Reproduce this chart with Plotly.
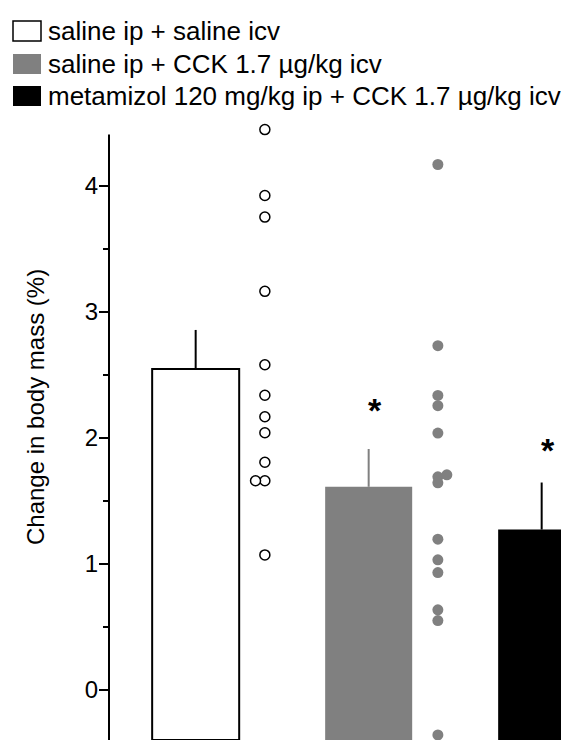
import plotly.graph_objects as go

# ---- data ----
groups = ["saline ip + saline icv",
          "saline ip + CCK 1.7 µg/kg icv",
          "metamizol 120 mg/kg ip + CCK 1.7 µg/kg icv"]
means = [2.545, 1.611, 1.272]
sems = [0.31, 0.30, 0.373]
significant = [False, True, True]

saline_saline_pts = [4.444, 3.921, 3.75, 3.161, 2.579, 2.337, 2.167, 2.040, 1.806, 1.659, 1.659, 1.071]
saline_saline_jit = [0, 0, 0, 0, 0, 0, 0, 0, 0, 0, -0.054, 0]
saline_cck_pts = [4.167, 2.730, 2.336, 2.254, 2.037, 1.706, 1.690, 1.643, 1.196, 1.032, 0.931, 0.635, 0.550, -0.357]
saline_cck_jit = [0, 0, 0, 0, 0, 0.052, 0, 0, 0, 0, 0, 0, 0, 0]

yticks = [0, 1, 2, 3, 4]
y_title = "Change in body mass (%)"

# ---- style ----
fill_colors = ["white", "#808080", "black"]
line_colors = ["black", "#808080", "black"]
err_colors = ["black", "#808080", "black"]
star_shift = [0, 39, 33]
FONT = "Liberation Sans, Arial, sans-serif"

OFF = 8  # page body margin
PAGE_W, PAGE_H = 569, 740
W, H = PAGE_W - OFF, PAGE_H - OFF
y_range = [-0.397, 4.52]
axis_top = 4.405
PX_PER_UNIT = 126
ML, MR, MB = 109 - OFF, 0, 0
MT = int(round(H - (y_range[1] - y_range[0]) * PX_PER_UNIT))
pw, ph = W - ML - MR, H - MT - MB
x_range = [-0.501, 2.158]
dot_offset = 0.40
bar_width = 0.503


def px(x):  # page x -> paper
    return (x - OFF - ML) / pw


def py(y):  # page y -> paper
    return (H - (y - OFF)) / ph


fig = go.Figure()

base = y_range[0]
for i in range(3):
    fig.add_trace(go.Bar(
        x=[i], y=[means[i] - base], base=[base], width=bar_width,
        marker=dict(color=fill_colors[i], line=dict(color=line_colors[i], width=2 if i == 0 else 0)),
        showlegend=False, hoverinfo="skip"))

for i in range(3):
    fig.add_trace(go.Scatter(
        x=[i], y=[means[i]], mode="markers",
        marker=dict(size=1, opacity=0),
        error_y=dict(type="data", symmetric=False, array=[sems[i]], arrayminus=[0],
                     width=0, thickness=2, color=err_colors[i]),
        showlegend=False, hoverinfo="skip"))

fig.add_trace(go.Scatter(
    x=[dot_offset + j for j in saline_saline_jit], y=saline_saline_pts, mode="markers",
    marker=dict(size=10, color="white", line=dict(color="black", width=1.5)),
    cliponaxis=False, showlegend=False, hoverinfo="skip"))
fig.add_trace(go.Scatter(
    x=[1 + dot_offset + j for j in saline_cck_jit], y=saline_cck_pts, mode="markers",
    marker=dict(size=11, color="#808080", line=dict(width=0)),
    cliponaxis=False, showlegend=False, hoverinfo="skip"))

annotations = []
for i in range(3):
    if significant[i]:
        annotations.append(dict(x=i, y=means[i] + sems[i], xref="x", yref="y",
                                text="<b>*</b>", showarrow=False, xshift=6, yshift=star_shift[i],
                                font=dict(family=FONT, size=34, color="black")))

# y-axis title
annotations.append(dict(x=px(35), y=py(407), xref="paper", yref="paper", text=y_title,
                        textangle=-90, showarrow=False,
                        font=dict(family=FONT, size=24, color="black"),
                        xanchor="center", yanchor="middle"))

shapes = [dict(type="line", xref="paper", yref="y", x0=0, x1=0,
               y0=y_range[0], y1=axis_top, line=dict(color="black", width=2), layer="above")]

# manual legend
row_y = [31, 64, 96]
for k, g in enumerate(groups):
    cy = row_y[k]
    shapes.append(dict(type="rect", xref="paper", yref="paper",
                       x0=px(13), x1=px(41), y0=py(cy + 10), y1=py(cy - 10),
                       fillcolor=fill_colors[k],
                       line=dict(color="black", width=1.5 if k == 0 else 0)))
    annotations.append(dict(x=px(46), y=py(cy), xref="paper", yref="paper",
                            text=g, showarrow=False, xanchor="left", yanchor="middle",
                            font=dict(family=FONT, size=26, color="black")))

fig.update_layout(
    width=W, height=H,
    margin=dict(l=ML, r=MR, t=MT, b=MB, pad=0),
    paper_bgcolor="white", plot_bgcolor="white",
    showlegend=False, barmode="overlay",
    annotations=annotations, shapes=shapes,
    xaxis=dict(range=x_range, visible=False, fixedrange=True),
    yaxis=dict(range=y_range, tickvals=yticks, ticks="outside", ticklen=9, tickwidth=2,
               tickcolor="black", showline=False, ticklabelstandoff=-4,
               showgrid=False, zeroline=False, automargin=False,
               tickfont=dict(family=FONT, size=24, color="black"),
               minor=dict(tickvals=[0.5, 1.5, 2.5, 3.5], ticks="outside", ticklen=5,
                          tickwidth=2, tickcolor="black", showgrid=False)),
)

fig.write_html("out.html")
